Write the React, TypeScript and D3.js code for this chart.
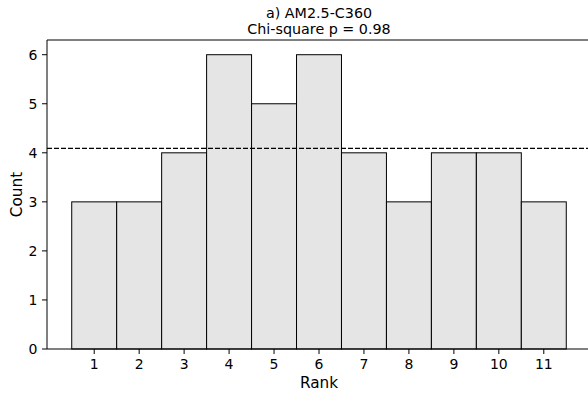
import React from "react";
import * as d3 from "d3";

const ranks = [1, 2, 3, 4, 5, 6, 7, 8, 9, 10, 11];
const counts = [3, 3, 4, 6, 5, 6, 4, 3, 4, 4, 3];
const yTicks = [0, 1, 2, 3, 4, 5, 6];
const expected = counts.reduce((a, b) => a + b, 0) / counts.length;
const titleLines = ["a) AM2.5-C360", "Chi-square p = 0.98"];

export default function App() {
  const W = 588, H = 395;
  const left = 47, right = 591, top = 40, bottom = 349;
  const x = d3.scaleLinear().domain([-0.05, 12.05]).range([left, right]);
  const y = d3.scaleLinear().domain([0, 6.3]).range([bottom, top]);
  const font = "DejaVu Sans, sans-serif";
  return (
    <svg width={W} height={H} style={{ position: "absolute", left: 0, top: 0 }} fontFamily={font}>
      <rect width={W} height={H} fill="#fff" />
      {ranks.map((r, i) => (
        <rect key={r} x={x(r - 0.5)} y={y(counts[i])} width={x(r + 0.5) - x(r - 0.5)} height={y(0) - y(counts[i])}
          fill="#e5e5e5" stroke="#000" strokeWidth={1} />
      ))}
      <line x1={left} x2={right} y1={y(expected)} y2={y(expected)} stroke="#000" strokeWidth={1.3} strokeDasharray="5,2" />
      <path d={`M${left},${bottom}V${top}H${right}V${bottom}Z`} fill="none" stroke="#000" strokeWidth={1} />
      {yTicks.map(t => (
        <g key={t}>
          <line x1={left - 5} x2={left} y1={y(t)} y2={y(t)} stroke="#000" />
          <text x={left - 9.5} y={y(t)} dy="0.36em" textAnchor="end" fontSize={14}>{t}</text>
        </g>
      ))}
      {ranks.map(r => (
        <g key={r}>
          <line x1={x(r)} x2={x(r)} y1={bottom} y2={bottom + 5} stroke="#000" />
          <text x={x(r)} y={bottom + 20} textAnchor="middle" fontSize={14}>{r}</text>
        </g>
      ))}
      <text x={(left + right) / 2} y={388} textAnchor="middle" fontSize={15.3}>Rank</text>
      <text transform={`translate(22,${(top + bottom) / 2}) rotate(-90)`} textAnchor="middle" fontSize={15.3}>Count</text>
      {titleLines.map((l, i) => (
        <text key={i} x={(left + right) / 2} y={17.5 + i * 16} textAnchor="middle" fontSize={14.3}>{l}</text>
      ))}
    </svg>
  );
}
